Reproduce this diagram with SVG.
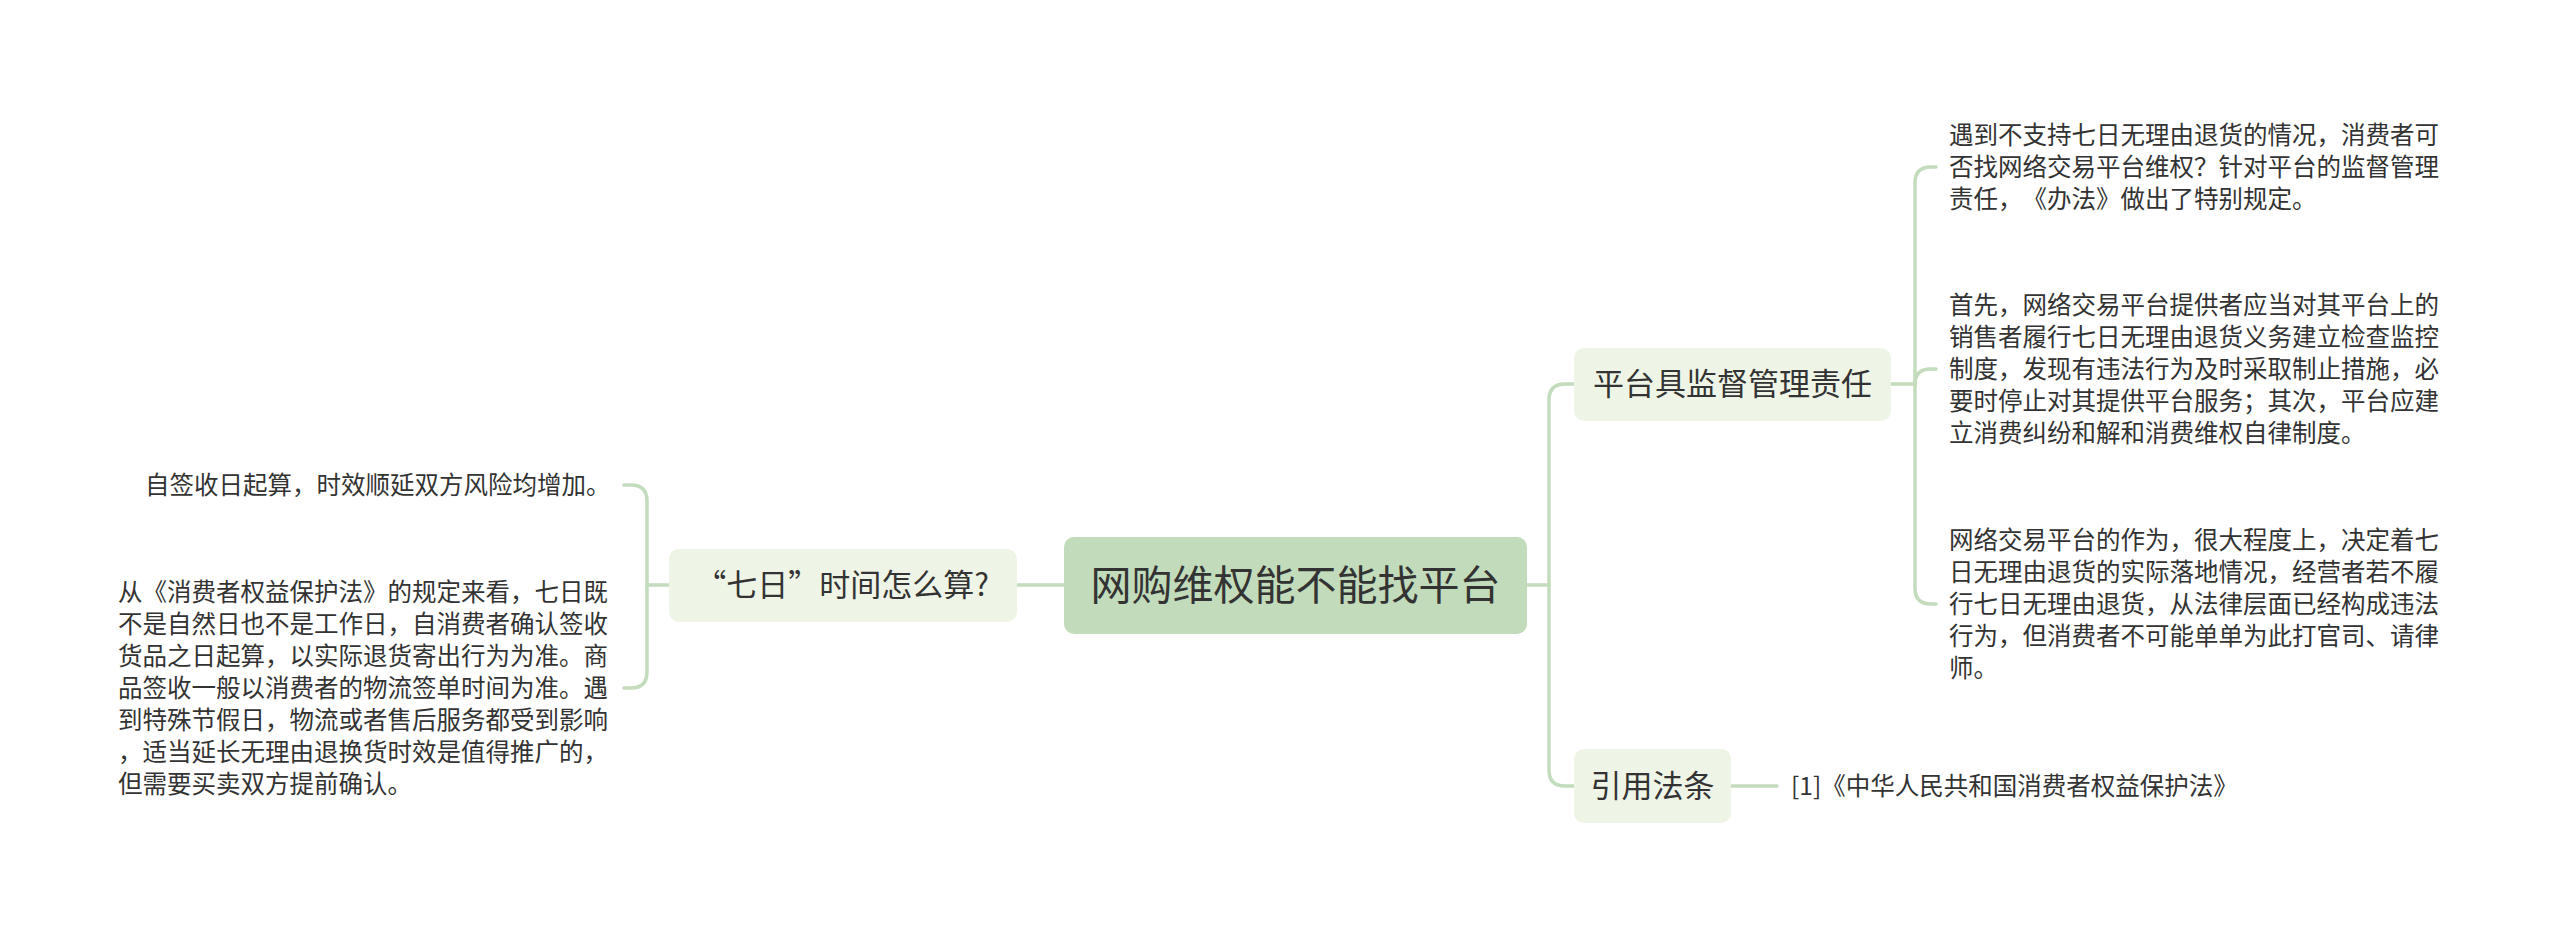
<svg xmlns="http://www.w3.org/2000/svg" width="2560" height="929" viewBox="0 0 2560 929">
<style>
text{font-family:"Noto Sans CJK SC","Noto Sans",sans-serif;fill:#333333;text-spacing-trim:space-all;font-feature-settings:"chws" 0,"halt" 0,"palt" 0}
.leaf{font-size:24.5px}
.sub{font-size:31px;text-anchor:middle}
.root{font-size:41px;text-anchor:middle}
.con{fill:none;stroke:#c3dcbd;stroke-width:3.5;stroke-linecap:round}
</style>
<rect width="2560" height="929" fill="#ffffff"/>
<g id="connectors">
<path class="con" d="M1064 585 H1017"/>
<path class="con" d="M1527 585 H1549 V400 Q1549 384 1565 384 H1574"/>
<path class="con" d="M1549 585 V770 Q1549 786 1565 786 H1574"/>
<path class="con" d="M1891 384 H1915 V183 Q1915 167 1931 167 H1936"/>
<path class="con" d="M1915 384 Q1915 369 1931 369 H1936"/>
<path class="con" d="M1915 384 V588 Q1915 604 1931 604 H1936"/>
<path class="con" d="M1731 786 H1777"/>
<path class="con" d="M669 585 H647 V501 Q647 485 631 485 H624"/>
<path class="con" d="M647 585 V672 Q647 688 631 688 H624"/>
</g>
<g id="root">
<rect x="1064" y="537" width="463" height="97" rx="10" fill="#c2dbbb"/>
<text class="root" x="1295.5" y="600">网购维权能不能找平台</text>
</g>
<g id="n-qiri">
<rect x="669" y="549" width="348" height="73" rx="10" fill="#eef5e6"/>
<text class="sub" x="842" y="596">“七日”时间怎么算?</text>
</g>
<g id="n-pingtai">
<rect x="1574" y="348" width="317" height="73" rx="10" fill="#eef5e6"/>
<text class="sub" x="1732.5" y="395">平台具监督管理责任</text>
</g>
<g id="n-yinyong">
<rect x="1574" y="749" width="157" height="74" rx="10" fill="#eef5e6"/>
<text class="sub" x="1652.5" y="797">引用法条</text>
</g>
<g id="leaf-l1">
<text class="leaf" x="145" y="494">自签收日起算，时效顺延双方风险均增加。</text>
</g>
<g id="leaf-l2">
<text class="leaf" x="118" y="601">从《消费者权益保护法》的规定来看，七日既</text>
<text class="leaf" x="118" y="633">不是自然日也不是工作日，自消费者确认签收</text>
<text class="leaf" x="118" y="665">货品之日起算，以实际退货寄出行为为准。商</text>
<text class="leaf" x="118" y="697">品签收一般以消费者的物流签单时间为准。遇</text>
<text class="leaf" x="118" y="729">到特殊节假日，物流或者售后服务都受到影响</text>
<text class="leaf" x="118" y="761">，适当延长无理由退换货时效是值得推广的，</text>
<text class="leaf" x="118" y="793">但需要买卖双方提前确认。</text>
</g>
<g id="leaf-r1">
<text class="leaf" x="1949" y="144">遇到不支持七日无理由退货的情况，消费者可</text>
<text class="leaf" x="1949" y="176">否找网络交易平台维权？针对平台的监督管理</text>
<text class="leaf" x="1949" y="208">责任，《办法》做出了特别规定。</text>
</g>
<g id="leaf-r2">
<text class="leaf" x="1949" y="314">首先，网络交易平台提供者应当对其平台上的</text>
<text class="leaf" x="1949" y="346">销售者履行七日无理由退货义务建立检查监控</text>
<text class="leaf" x="1949" y="378">制度，发现有违法行为及时采取制止措施，必</text>
<text class="leaf" x="1949" y="410">要时停止对其提供平台服务；其次，平台应建</text>
<text class="leaf" x="1949" y="442">立消费纠纷和解和消费维权自律制度。</text>
</g>
<g id="leaf-r3">
<text class="leaf" x="1949" y="549">网络交易平台的作为，很大程度上，决定着七</text>
<text class="leaf" x="1949" y="581">日无理由退货的实际落地情况，经营者若不履</text>
<text class="leaf" x="1949" y="613">行七日无理由退货，从法律层面已经构成违法</text>
<text class="leaf" x="1949" y="645">行为，但消费者不可能单单为此打官司、请律</text>
<text class="leaf" x="1949" y="677">师。</text>
</g>
<g id="leaf-ref">
<text class="leaf" x="1791" y="795">[1]《中华人民共和国消费者权益保护法》</text>
</g>
</svg>
